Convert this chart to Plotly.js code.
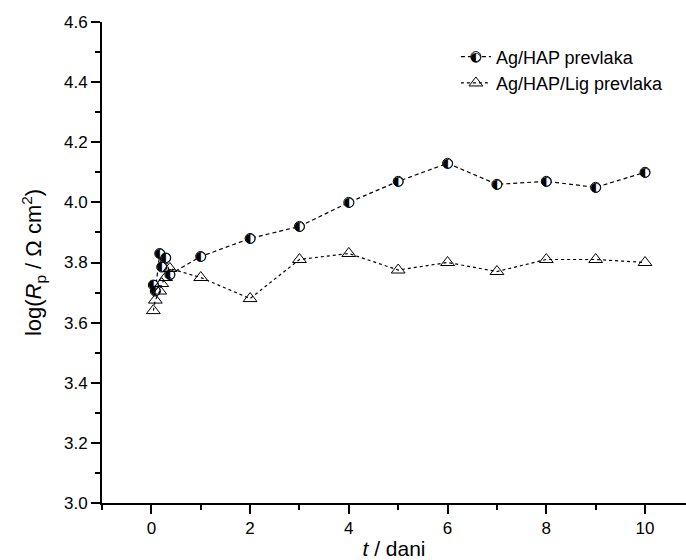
<!DOCTYPE html>
<html>
<head>
<meta charset="utf-8">
<script src="https://cdn.plot.ly/plotly-3.0.1.min.js"></script>
<style>html,body{margin:0;padding:0;background:#fff;}#chart{width:686px;height:560px;}</style>
</head>
<body>
<div id="chart"></div>
<script>
// t / days
var tHAP = [0.04, 0.08, 0.17, 0.21, 0.29, 0.375, 1, 2, 3, 4, 5, 6, 7, 8, 9, 10];
var logRpHAP = [3.725, 3.705, 3.83, 3.785, 3.815, 3.76, 3.82, 3.88, 3.92, 4.00, 4.07, 4.13, 4.06, 4.07, 4.05, 4.10];
var tLig = [0.04, 0.08, 0.17, 0.21, 0.29, 0.375, 1, 2, 3, 4, 5, 6, 7, 8, 9, 10];
var logRpLig = [3.64, 3.675, 3.705, 3.73, 3.75, 3.78, 3.75, 3.68, 3.81, 3.83, 3.775, 3.80, 3.77, 3.81, 3.81, 3.80];
var seriesNames = ['Ag/HAP prevlaka', 'Ag/HAP/Lig prevlaka'];
var yTickVals = [3.0, 3.2, 3.4, 3.6, 3.8, 4.0, 4.2, 4.4, 4.6];
var yTickText = ['3.0', '3.2', '3.4', '3.6', '3.8', '4.0', '4.2', '4.4', '4.6'];
var xTickVals = [0, 2, 4, 6, 8, 10];
var xTickText = ['0', '2', '4', '6', '8', '10'];

var FONT = 'Liberation Sans, Arial, sans-serif';
var HALF = '\u25D0';

var traces = [
  {
    x: tHAP, y: logRpHAP, name: seriesNames[0], mode: 'lines+markers', type: 'scatter',
    line: {color: '#000', width: 1.2, dash: '4px,3px'},
    marker: {symbol: 'circle', size: 10, color: '#fff', line: {color: '#000', width: 1}}
  },
  {
    x: tHAP, y: logRpHAP, mode: 'text', type: 'scatter', showlegend: false, hoverinfo: 'skip',
    text: tHAP.map(function(){return HALF;}),
    textposition: 'middle center',
    textfont: {family: 'DejaVu Sans', size: 13, color: '#000'}
  },
  {
    x: tLig, y: logRpLig, name: seriesNames[1], mode: 'lines+markers', type: 'scatter',
    line: {color: '#000', width: 1.2, dash: 'dot'},
    marker: {symbol: 'triangle-up-open', size: 12, color: '#000', line: {color: '#000', width: 1}}
  }
];

var LEGX = 0.606, LEGY = 0.966;

var layout = {
  width: 686, height: 560,
  paper_bgcolor: '#fff', plot_bgcolor: '#fff',
  margin: {l: 102, r: 0, t: 22, b: 57},
  font: {family: FONT, size: 17, color: '#000'},
  showlegend: true,
  legend: {x: LEGX, y: LEGY, xanchor: 'left', yanchor: 'top', bgcolor: 'rgba(0,0,0,0)',
           font: {family: FONT, size: 18, color: '#000'}, tracegroupgap: 0},
  xaxis: {
    range: [-1, 10.83], showgrid: false, zeroline: false,
    showline: true, linecolor: '#000', linewidth: 2,
    ticks: 'outside', ticklen: 9, tickwidth: 2, tickcolor: '#000',
    tickvals: xTickVals, ticktext: xTickText,
    minor: {dtick: 1, tick0: -1, ticks: 'outside', ticklen: 5, tickwidth: 2, tickcolor: '#000', showgrid: false},
    tickfont: {family: FONT, size: 17},
    title: {text: '<i>t</i> / dani', font: {family: FONT, size: 21}, standoff: 4}
  },
  yaxis: {
    range: [3.0, 4.6], showgrid: false, zeroline: false,
    showline: true, linecolor: '#000', linewidth: 2,
    ticks: 'outside', ticklen: 9, tickwidth: 2, tickcolor: '#000',
    tickvals: yTickVals, ticktext: yTickText,
    minor: {dtick: 0.1, tick0: 3.0, ticks: 'outside', ticklen: 5, tickwidth: 2, tickcolor: '#000', showgrid: false},
    tickfont: {family: FONT, size: 17},
    title: {text: 'log(<i>R</i><sub>p</sub> / \u03A9 cm<sup>2</sup>)', font: {family: FONT, size: 22}, standoff: 16}
  }
};

Plotly.newPlot('chart', traces, layout, {staticPlot: true, displayModeBar: false}).then(function(gd){
  // overlay the half-filled glyph onto the legend symbol of the first series
  var pt = gd.querySelector('.legend .traces .legendpoints path.scatterpts');
  if (pt) {
    var r = pt.getBoundingClientRect();
    var g = gd.getBoundingClientRect();
    var cx = (r.left + r.right) / 2 - g.left;
    var cy = (r.top + r.bottom) / 2 - g.top;
    var fs = gd._fullLayout._size;
    Plotly.relayout(gd, {annotations: [{
      xref: 'paper', yref: 'paper',
      x: (cx - fs.l) / fs.w, y: 1 - (cy - fs.t) / fs.h,
      xanchor: 'center', yanchor: 'middle', showarrow: false,
      text: HALF, font: {family: 'DejaVu Sans', size: 13, color: '#000'}
    }]});
  }
});
</script>
</body>
</html>
